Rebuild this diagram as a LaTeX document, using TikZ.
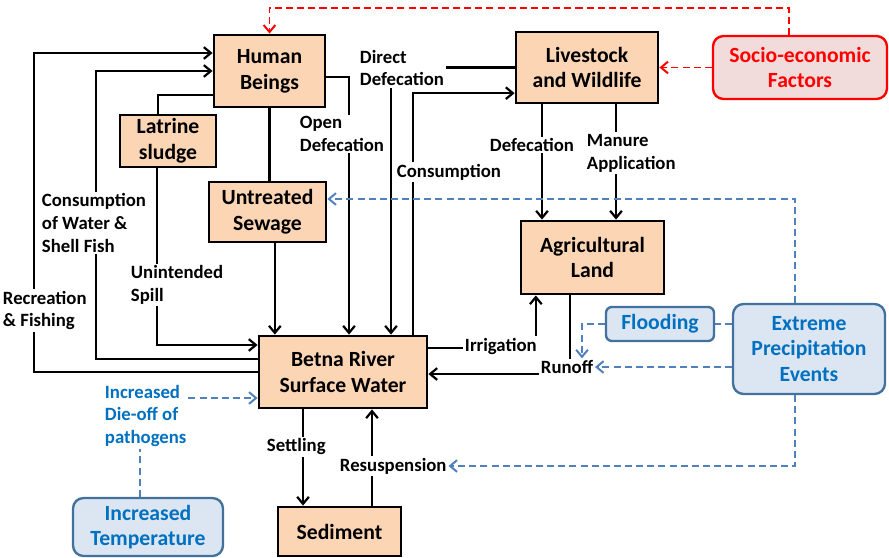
\documentclass[tikz,border=0pt]{standalone}
\usepackage{fontspec}
\setmainfont{Carlito}
\usetikzlibrary{arrows.meta}
\definecolor{BoxPeach}{HTML}{FCD5B5}
\definecolor{SocRed}{HTML}{FF0000}
\definecolor{SocFill}{HTML}{F2DCDB}
\definecolor{ClimFill}{HTML}{DCE6F2}
\definecolor{ClimEdge}{HTML}{41719C}
\definecolor{ClimText}{HTML}{0070C0}
\definecolor{ClimDash}{HTML}{4F81BD}

\begin{document}
\begin{tikzpicture}[
  x=0.03cm, y=-0.03cm,
  box/.style={rectangle, draw, line width=2.4pt, fill=BoxPeach, align=center, inner sep=0pt, font=\bfseries\fontsize{18.5}{22}\selectfont},
  socbox/.style={box, rounded corners=9pt, draw=SocRed, fill=SocFill, text=SocRed, line width=2pt},
  climbox/.style={box, rounded corners=9pt, draw=ClimEdge, fill=ClimFill, text=ClimText, line width=2pt},
  lbl/.style={fill=white, inner sep=1.5pt, align=left, anchor=west, font=\bfseries\fontsize{16}{19.6}\selectfont},
  climlbl/.style={lbl, text=ClimText},
  link/.style={line width=1.9pt},
  arr/.style={link, -{Straight Barb[length=6pt,width=10pt]}},
  rarr/.style={arr, draw=SocRed, dash pattern=on 6pt off 3.5pt, line width=1.7pt},
  barr/.style={arr, draw=ClimDash, dash pattern=on 6pt off 3.5pt, line width=1.7pt},
  bdash/.style={link, draw=ClimDash, dash pattern=on 6pt off 3.5pt, line width=1.7pt}
]
\useasboundingbox (0,0) rectangle (889,558);

\node[box, minimum width=3.33cm, minimum height=2.16cm] (hum) at (269.5,71)  {Human\\Beings};
\node[box, minimum width=2.88cm, minimum height=1.56cm] (lat) at (168,141)   {Latrine\\sludge};
\node[box, minimum width=3.51cm, minimum height=1.8cm]  (sew) at (267.5,212) {Untreated\\Sewage};
\node[box, minimum width=4.26cm, minimum height=2.13cm] (liv) at (587,67.5)  {Livestock\\and Wildlife};
\node[socbox, minimum width=5.22cm, minimum height=1.89cm] (soc) at (800,67.5) {Socio-economic\\Factors};
\node[box, minimum width=4.29cm, minimum height=2.19cm] (agr) at (592.5,257.5) {Agricultural\\Land};
\node[box, minimum width=5.04cm, minimum height=2.16cm] (bet) at (343,372)   {Betna River\\Surface Water};
\node[box, minimum width=3.69cm, minimum height=1.47cm] (sed) at (339.5,531.5) {Sediment};
\node[climbox, minimum width=4.5cm, minimum height=1.74cm] (tmp) at (148,527) {Increased\\Temperature};
\node[climbox, rounded corners=5pt, minimum width=3.24cm, minimum height=1.02cm] (fld) at (660,324) {Flooding};
\node[climbox, minimum width=4.56cm, minimum height=2.7cm] (ext) at (809,349) {Extreme\\Precipitation\\Events};

\coordinate (recx)  at (34,310);
\coordinate (consx) at (96,223);

\draw[rarr] ([xshift=-0.33cm]soc.north) |- ([yshift=0.78cm]hum.north) -- (hum.north);
\draw[rarr] (soc.west) -- (liv.east);

\draw[arr] (bet.west) -| (recx) |- ([yshift=0.54cm]hum.west);
\draw[arr] ([yshift=0.39cm]bet.west) -| (consx) |- (hum.west);
\draw[link] ([yshift=-0.72cm]hum.west) -| ([xshift=-0.3cm]lat.north);
\draw[arr] ([xshift=-0.33cm]lat.south) |- ([yshift=0.81cm]bet.west);
\draw[link] (hum.south) -- (hum.south |- sew.north);
\draw[arr] ([xshift=0.22cm]sew.south) -- ([xshift=0.22cm]sew.south |- bet.north);
\draw[arr] ([yshift=-0.18cm]hum.east) -| ([xshift=0.18cm]bet.north);
\draw[arr] (liv.west) -| ([xshift=1.44cm]bet.north);
\draw[arr] ([xshift=2.1cm]bet.north) |- ([yshift=-0.77cm]liv.west);
\draw[arr] ([xshift=-1.35cm]liv.south) -- ([xshift=-1.35cm]liv.south |- agr.north);
\draw[arr] ([xshift=0.87cm]liv.south) -- ([xshift=0.87cm]liv.south |- agr.north);
\draw[arr] ([yshift=0.72cm]bet.east) -| ([xshift=-1.7cm]agr.south);
\draw[arr] ([xshift=-0.68cm]agr.south) |- ([yshift=-0.06cm]bet.east);
\draw[arr] ([xshift=-1.2cm]bet.south) -- ([xshift=-1.2cm]bet.south |- sed.north);
\draw[arr] ([xshift=0.87cm]bet.south |- sed.north) -- ([xshift=0.87cm]bet.south);

\node[lbl] (rec)  at (1,310.5) {Recreation\\\& Fishing};
\node[lbl] (cons) at (40,223)  {Consumption\\of Water \&\\Shell Fish};
\node[lbl] (spl)  at (129,285) {Unintended\\Spill};
\node[lbl] (opn)  at (298,134) {Open\\Defecation};
\node[lbl] (dir)  at (358,68)  {Direct\\Defecation};
\node[lbl] (csm)  at (395,172) {Consumption};
\node[lbl] (def)  at (488,145) {Defecation};
\node[lbl] (man)  at (585,153) {Manure\\Application};
\node[lbl] (irr)  at (463,346) {Irrigation};
\node[lbl] (run)  at (539,367) {Runoff};
\node[lbl] (set)  at (265,447) {Settling};
\node[lbl] (res)  at (338,466) {Resuspension};
\node[climlbl] (die) at (103,416) {Increased\\Die-off of\\pathogens};

\draw[barr] ([xshift=-0.42cm]ext.north) |- ([yshift=0.39cm]sew.east);
\draw[bdash] (ext.west |- fld.east) -- (fld.east);
\draw[barr] (fld.west) -| ([xshift=0.45cm]run.north);
\draw[barr] (ext.west |- run.east) -- (run.east);
\draw[barr] ([xshift=-0.42cm]ext.south) |- (res.east);
\draw[bdash] ([xshift=-0.24cm]tmp.north) -- ([xshift=-0.24cm]tmp.north |- die.south);
\draw[barr] ([yshift=-0.78cm]bet.west -| die.east) -- ([yshift=-0.78cm]bet.west);
\end{tikzpicture}
\end{document}
